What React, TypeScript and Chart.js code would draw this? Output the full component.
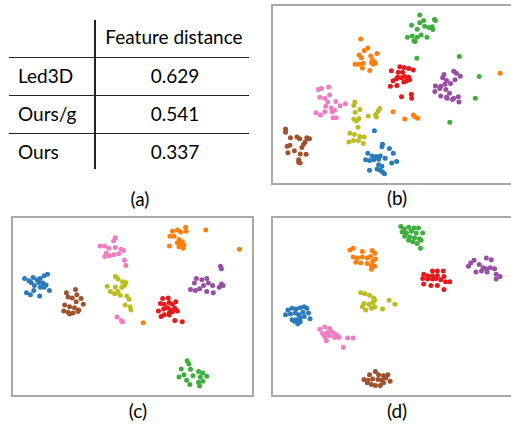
import React, { useEffect, useRef } from "react";
import { Chart, registerables } from "chart.js";
Chart.register(...registerables);

type P = [number, number];

// ---------- table (a) ----------
const tableHeader = "Feature distance";
const methods = ["Led3D", "Ours/g", "Ours"];
const featureDistance = ["0.629", "0.541", "0.337"];
const panelLabels = ["(a)", "(b)", "(c)", "(d)"];

// ---------- colours ----------
const C = {
  blue: "#2b7bba",
  orange: "#ff7f0e",
  green: "#3fae3c",
  red: "#e41a1c",
  purple: "#984ea3",
  brown: "#a0522d",
  pink: "#f07cc2",
  olive: "#bcbd22",
};

// ---------- panel (b) : Led3D ----------
const bGreen: P[] = [[420.3,12.7],[424.3,18.3],[420.3,20.7],[435.3,17.3],[436.3,18.3],[412,23.3],[417.7,27.3],[425.3,24.3],[429.7,25.7],[433,24.7],[433.7,27.7],[421.7,33.3],[427.7,35.7],[417.7,35.7],[412.7,34.3],[407.7,35.7],[414.3,39.3],[415.7,40],[417.3,57.3],[460.7,55.3],[481,76],[477,98.3],[451,123]];
const bOrange: P[] = [[360,37.3],[367.3,46.7],[363.7,49.3],[376.7,52.3],[358.3,54],[370.3,55],[360.7,56.7],[372,59.3],[374,60.7],[371,61.7],[375,62.3],[354.3,63.3],[358.3,63.3],[362.3,62.3],[361.7,67.3],[369.3,69.7],[372.7,63.3],[502.3,72.7],[393,112.3],[405,119.7],[413.7,115.7],[415.7,117.7],[418.3,119]];
const bRed: P[] = [[400,66],[404.3,66.7],[409,67.7],[413.7,69.3],[391.3,70],[398.3,71.7],[402.7,71.7],[397.7,76.7],[401.7,77.3],[405,76],[409,76.7],[406.7,80.7],[410,79.3],[393,80.3],[396.7,78.3],[404,81.7],[390.3,86],[397,85.3],[401.7,96.7],[411.7,94.3],[412,98.3]];
const bPurple: P[] = [[455,70.7],[457.7,72.7],[461.7,75.7],[445,74],[443.7,77.3],[456.3,79.3],[447.7,80],[436.3,85.7],[441.7,86],[451.7,83.3],[446,84],[447,89.3],[440.7,88.3],[435.7,91.3],[450.7,93.3],[441.7,96],[447.7,97.3],[455,98.3],[459.7,96.7],[453.7,99.7],[460.3,102.3],[448.3,98.3]];
const bPink: P[] = [[316.7,89.3],[320,88.3],[327.3,86.7],[318.3,97.3],[323.3,98.3],[328.3,95],[326.3,102.3],[334.7,101.7],[324.3,106.7],[330,108.3],[333.3,110.7],[339,106],[344.3,104],[314.3,113.3],[319,115.7],[323.3,112.3],[331,112.3],[331.7,118.3],[335,118.3]];
const bOlive: P[] = [[354,102.3],[353,105.7],[359.3,110],[354.3,112.7],[379.3,109],[377.7,111.7],[375.3,115],[376,117.7],[367.7,116.7],[353,120],[358.3,119.3],[355.7,121.7],[357.3,128.3],[349,134.3],[353.7,135.7],[359.3,137.7],[363.7,138.3],[348,143.3],[352.7,141.7],[357.7,141.7],[362.7,145]];
const bBlue: P[] = [[374,131.7],[382.3,145.7],[381.7,148.3],[389.3,150],[393.3,155],[367.3,155],[371.7,157.7],[375.7,158.3],[380,157.7],[365,161.7],[369,162.3],[373.3,161.7],[378.3,161],[385,160],[391.7,165],[396.7,163.3],[378.3,166.7],[381.7,168.3],[369,172.3],[376.7,171],[380,172.3],[382.3,174.3],[384.3,176]];
const bBrown: P[] = [[283.3,130],[283.3,133.3],[288.3,139],[295,138.3],[297.7,140],[305,139],[307.7,140],[303.3,143.3],[301.7,145.7],[287.7,146.7],[285,147.7],[300,149],[292.3,152.3],[285.7,154.3],[298.3,155.7],[304.3,156],[296.7,161.7],[296.7,164.3],[298.3,165]];

// ---------- panel (c) : Ours/g ----------
const cOrange: P[] = [[173.3,229],[178.3,227.7],[181.7,230],[186.7,225],[187.3,229],[170.7,234.3],[175,234.3],[180,237.7],[178.3,241],[181.7,241.7],[183.3,240],[170.3,244.3],[180,245],[184.3,246.7],[185,243.3],[207.3,227.7],[241.7,247.7],[143.3,323.3]];
const cPink: P[] = [[115,235.7],[113.3,239],[99.3,244.3],[104,244.3],[108.3,246.7],[115,245.7],[121,247.7],[123.3,249],[105.7,251.7],[109,254.3],[113.3,253.3],[118.3,252.3],[104.3,255],[124.3,259],[125.7,264.3],[116.7,317.3],[121,321],[122.3,322.3]];
const cBlue: P[] = [[22.3,277.7],[26.7,280],[31,276.7],[35,279],[38.3,277.7],[42.3,275],[45.7,273.3],[36.7,281.7],[41,282.3],[44.3,284.3],[29,281.7],[32.3,285],[38.3,286.7],[42.3,286.7],[47.7,290],[24.3,292.3],[28.3,294.3],[37.7,295.7],[31.7,290]];
const cBrown: P[] = [[74.3,289],[65,292.3],[75.7,294.3],[66.7,296.7],[71,297.7],[80,298.3],[75,301.7],[82.3,304.3],[63.3,305],[68.3,306.7],[73.3,307.7],[77.7,310],[62.3,311],[66.7,312.3],[71.7,313.3],[68.3,314.3],[76.7,311.7]];
const cOlive: P[] = [[115,275.7],[117.7,278.3],[122.3,281],[125.7,281.7],[106.7,285.7],[115,286.7],[121.7,286.7],[124.3,285],[117.7,291],[114.3,293.3],[110,291],[120,295],[126.7,295.7],[129,299],[125,305],[130,306.7],[131,310]];
const cPurple: P[] = [[222.3,265],[223.3,267.7],[197.7,277.7],[203.3,279],[208.3,277.7],[195.7,282.3],[205,285],[210,282.3],[214.3,285],[223.3,283.3],[225,285],[221,286.7],[191.7,289],[196.7,290],[201,288.3],[208.3,291],[215,292.3]];
const cRed: P[] = [[163.3,298.3],[169,297.7],[161,303.3],[165,304.3],[170,302.3],[173.3,304.3],[176.7,301.7],[159,311],[164.3,309],[168.3,307.7],[171.7,310],[175.7,308.3],[178.3,311],[170,313],[173.3,312],[161.7,316.7],[165,315],[170,315.3],[175.7,321],[183.3,322.3]];
const cGreen: P[] = [[188.3,362.3],[190,365.7],[182.3,370.7],[191.7,371],[200,373.3],[204.3,375],[180,379],[185,376.7],[194.3,377.7],[201.7,379],[208.3,378.3],[187.7,382.3],[191,386.7],[200,384.3],[204.3,383.3],[201,388.3]];

// ---------- panel (d) : Ours ----------
const dGreen: P[] = [[401,224.3],[404.3,226.7],[409,225],[414.3,225.7],[419,225.7],[402.3,230],[406.7,231],[411.7,229],[416.7,231],[423.3,231],[405,234.3],[410,235],[415,235.7],[420,236.7],[421.7,238.3],[409,238.3],[413.3,240],[417.7,241.7],[421,246.7]];
const dOrange: P[] = [[352.3,246.7],[349,248.3],[361.7,250],[371.7,249],[374.3,251.7],[352.3,255.7],[356.7,256.7],[361.7,255.7],[366.7,256.7],[370,255],[375,257.7],[355,261],[360,261.7],[366.7,262.3],[372.3,260],[371,264.3],[374.3,265],[371,268.3]];
const dPurple: P[] = [[475.7,259],[472.3,261.7],[470,265],[488.3,256.7],[493.3,258.3],[481,263.3],[485,266.7],[488.3,267.7],[492.3,266.7],[496.7,267.7],[477.7,271],[483.3,270],[489,271],[498.3,273.3],[502.3,275.7],[498.3,278.3]];
const dRed: P[] = [[433.3,270],[438.3,270],[444.3,270],[424.3,273.3],[428.3,275],[433.3,275],[438.3,275],[445,275.7],[423.3,277.7],[428.3,278.3],[433.3,278.3],[436.7,277.7],[441.7,279],[446.7,281],[451,281],[424.3,283.3],[431.7,285],[438.3,285],[445,289]];
const dOlive: P[] = [[360,292.3],[364.3,293.3],[369,295],[373.3,297.7],[363.3,303.3],[368.3,304.3],[372.3,302.3],[374.3,300],[389,300],[395,304.3],[382.3,309],[361.7,306.7],[365,310],[371,308.3],[374.3,306.7]];
const dBlue: P[] = [[285.7,310],[290,308.3],[294.3,309],[298.3,307.7],[302.3,306.7],[305,308.3],[283.3,315],[288.3,314.3],[293.3,313.3],[296.7,315],[301,312.3],[306.7,313.3],[308.3,319],[290,320],[294.3,320],[298.3,318.3],[302.3,316.7],[295.7,324.3],[298.3,322.3],[292.3,321.7]];
const dPink: P[] = [[318.3,330],[323.3,327.7],[328.3,329],[321,334.3],[325.7,333.3],[330,332.3],[333.3,334.3],[336.7,336.7],[323.3,337.7],[328.3,336.7],[333.3,338.3],[337.7,338.3],[325,341.7],[346.7,339],[352.3,339],[342.3,348.3]];
const dBrown: P[] = [[375,373.3],[369,376.7],[378.3,376.7],[383.3,377.7],[387.7,376.7],[363.3,381.7],[367.7,382.3],[372.3,381],[377.7,381.7],[381.7,382.3],[385.7,380],[390,383.3],[371,386.7],[375,387.7],[380,387.7],[383.3,385],[366.7,385]];

type Cluster = { color: string; pts: P[] };
type Box = { left: number; top: number; width: number; height: number };

const FONT = "Lato, 'Open Sans', sans-serif";

function Scatter({ box, clusters }: { box: Box; clusters: Cluster[] }) {
  const ref = useRef<HTMLCanvasElement | null>(null);
  useEffect(() => {
    if (!ref.current) return;
    const chart = new Chart(ref.current, {
      type: "scatter",
      data: {
        datasets: clusters.map((c) => ({
          data: c.pts.map(([x, y]) => ({ x, y })),
          backgroundColor: c.color,
          borderWidth: 0,
          pointRadius: 2.5,
          pointHoverRadius: 2.5,
        })),
      },
      options: {
        animation: false,
        responsive: false,
        events: [],
        layout: { padding: 0 },
        plugins: { legend: { display: false }, tooltip: { enabled: false } },
        scales: {
          x: { type: "linear", display: false, min: box.left, max: box.left + box.width },
          y: { type: "linear", display: false, min: box.top, max: box.top + box.height, reverse: true },
        },
      },
    });
    return () => chart.destroy();
  }, []);
  return (
    <>
      <div
        style={{
          position: "absolute",
          left: box.left,
          top: box.top,
          width: box.width,
          height: box.height,
          boxSizing: "border-box",
          border: "2px solid #a9a9a9",
        }}
      />
      <canvas
        ref={ref}
        width={box.width}
        height={box.height}
        style={{ position: "absolute", left: box.left, top: box.top, width: box.width, height: box.height }}
      />
    </>
  );
}

const txt = (x: number, y: number, s: string, align: "left" | "center", size = 19) => (
  <div
    key={s + x + y}
    style={{
      position: "absolute",
      left: align === "center" ? x - 100 : x,
      top: y - size * 0.65,
      width: align === "center" ? 200 : undefined,
      textAlign: align,
      fontSize: size,
      lineHeight: `${size * 1.3}px`,
      whiteSpace: "nowrap",
      color: "#000",
    }}
  >
    {s}
  </div>
);

export default function App() {
  const boxB: Box = { left: 271, top: 4, width: 245, height: 181 };
  const boxC: Box = { left: 11, top: 216, width: 243, height: 181 };
  const boxD: Box = { left: 271, top: 216, width: 245, height: 181 };
  const rowY = [76, 114, 152];
  return (
    <div
      style={{
        position: "fixed",
        left: 0,
        top: 0,
        width: 511,
        height: 426,
        overflow: "hidden",
        background: "#fff",
        fontFamily: FONT,
      }}
    >
      {/* table (a) */}
      <div style={{ position: "absolute", left: 94, top: 20, width: 1.5, height: 149, background: "#222" }} />
      {[56.5, 94.5, 132.5].map((y) => (
        <div key={y} style={{ position: "absolute", left: 9, top: y, width: 240, height: 1.5, background: "#222" }} />
      ))}
      {txt(174, 37, tableHeader, "center")}
      {methods.map((m, i) => txt(18, rowY[i], m, "left"))}
      {featureDistance.map((v, i) => txt(175, rowY[i], v, "center"))}

      <Scatter
        box={boxB}
        clusters={[
          { color: C.green, pts: bGreen },
          { color: C.orange, pts: bOrange },
          { color: C.red, pts: bRed },
          { color: C.purple, pts: bPurple },
          { color: C.pink, pts: bPink },
          { color: C.olive, pts: bOlive },
          { color: C.blue, pts: bBlue },
          { color: C.brown, pts: bBrown },
        ]}
      />
      <Scatter
        box={boxC}
        clusters={[
          { color: C.orange, pts: cOrange },
          { color: C.pink, pts: cPink },
          { color: C.blue, pts: cBlue },
          { color: C.brown, pts: cBrown },
          { color: C.olive, pts: cOlive },
          { color: C.purple, pts: cPurple },
          { color: C.red, pts: cRed },
          { color: C.green, pts: cGreen },
        ]}
      />
      <Scatter
        box={boxD}
        clusters={[
          { color: C.green, pts: dGreen },
          { color: C.orange, pts: dOrange },
          { color: C.purple, pts: dPurple },
          { color: C.red, pts: dRed },
          { color: C.olive, pts: dOlive },
          { color: C.blue, pts: dBlue },
          { color: C.pink, pts: dPink },
          { color: C.brown, pts: dBrown },
        ]}
      />

      {txt(140, 199, panelLabels[0], "center")}
      {txt(397, 198, panelLabels[1], "center")}
      {txt(138, 411, panelLabels[2], "center")}
      {txt(397, 411, panelLabels[3], "center")}
    </div>
  );
}
